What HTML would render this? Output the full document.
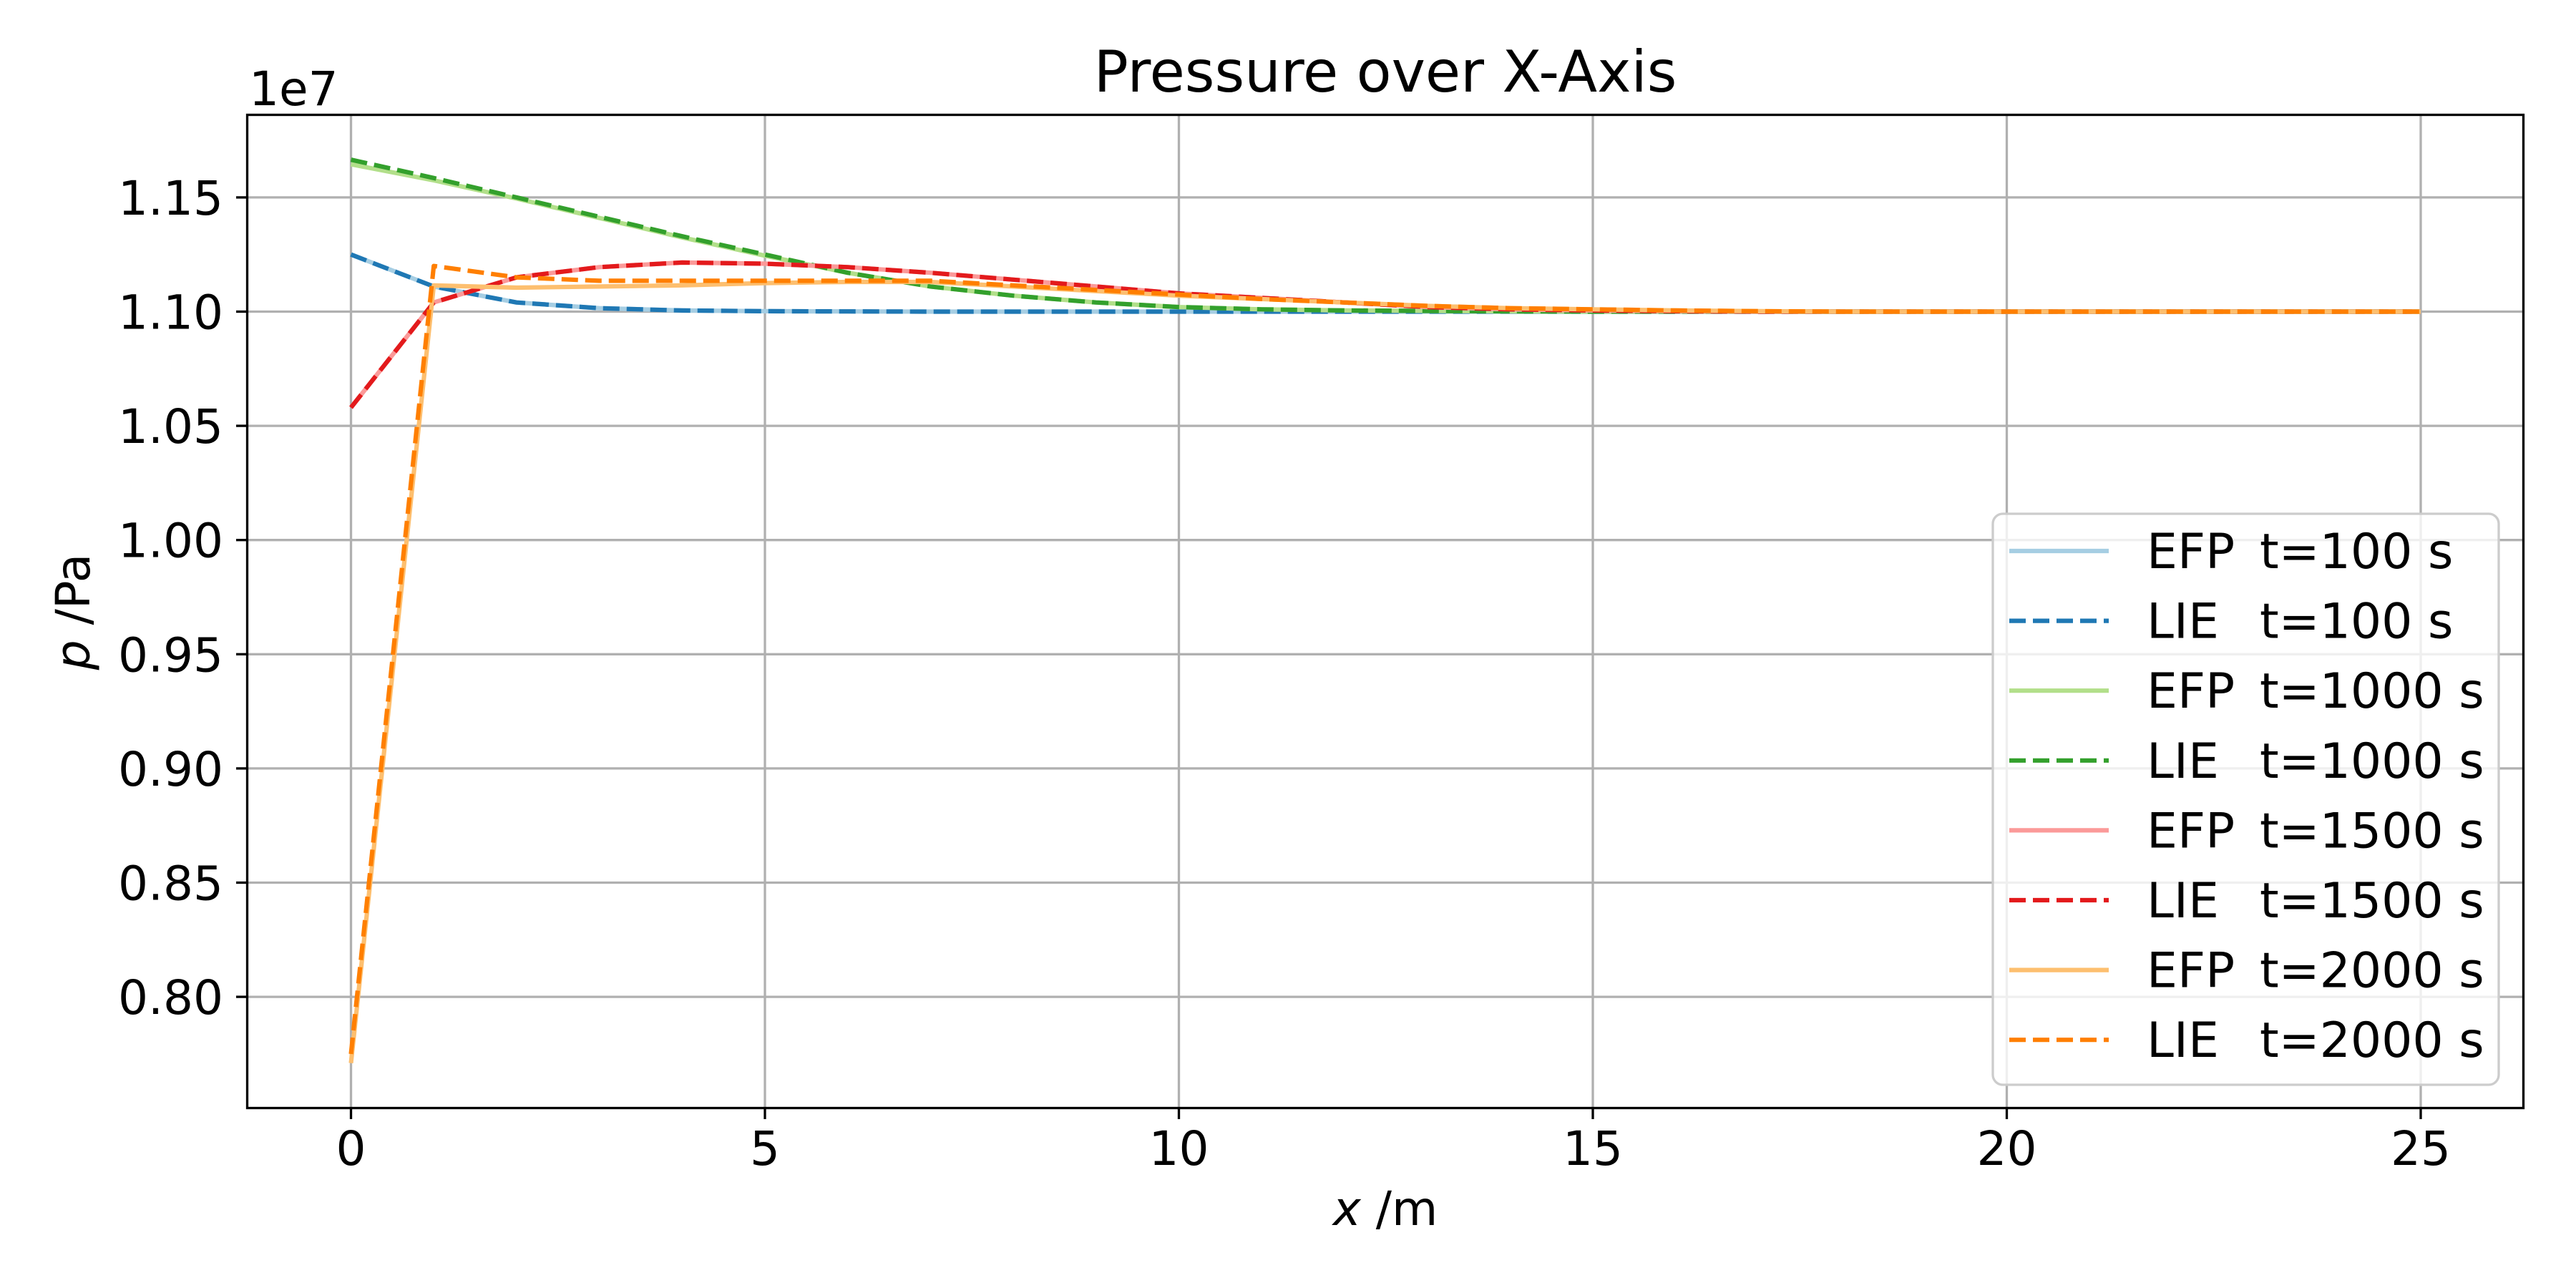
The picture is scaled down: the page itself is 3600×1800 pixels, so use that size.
<!DOCTYPE html>
<html><head><meta charset="utf-8"><style>
html,body{margin:0;padding:0;background:#fff;}
svg{display:block;font-family:"DejaVu Sans","Liberation Sans",sans-serif;}
</style></head><body>
<svg id="chart" width="3600" height="1800" viewBox="0 0 3600 1800">
<rect x="0" y="0" width="3600" height="1800" fill="#fff"/>
<g id="grid"></g>
<g id="series"></g>
<rect x="345.5" y="160.5" width="3181" height="1388" fill="none" stroke="#000" stroke-width="3.3"/>
<g id="ticks"></g>
<text x="1936" y="128" font-size="80" text-anchor="middle">Pressure over X-Axis</text>
<text x="348" y="147" font-size="66">1e7</text>
<text x="1936" y="1712" font-size="66" text-anchor="middle"><tspan font-style="italic">x</tspan> /m</text>
<text transform="translate(125,855) rotate(-90)" font-size="66" text-anchor="middle"><tspan font-style="italic">p</tspan> /Pa</text>
<g id="legend"></g>
</svg>
<script>
const xs = [0,1,2,3,4,5,6,7,8,9,10,11,12,13,14,15,16,17,18,19,20,21,22,23,24,25];
const efp100 = [1.125,1.111,1.104,1.1015,1.1005,1.1002,1.1001,1.1,1.1,1.1,1.1,1.1,1.1,1.1,1.1,1.1,1.1,1.1,1.1,1.1,1.1,1.1,1.1,1.1,1.1,1.1];
const lie100 = [1.125,1.111,1.104,1.1015,1.1005,1.1002,1.1001,1.1,1.1,1.1,1.1,1.1,1.1,1.1,1.1,1.1,1.1,1.1,1.1,1.1,1.1,1.1,1.1,1.1,1.1,1.1];
const efp1000 = [1.1645,1.1575,1.1495,1.141,1.1325,1.1245,1.117,1.111,1.107,1.104,1.102,1.101,1.1005,1.1003,1.1001,1.1,1.1,1.1,1.1,1.1,1.1,1.1,1.1,1.1,1.1,1.1];
const lie1000 = [1.1665,1.1585,1.150,1.1415,1.133,1.125,1.117,1.111,1.107,1.104,1.102,1.101,1.1005,1.1003,1.1001,1.1,1.1,1.1,1.1,1.1,1.1,1.1,1.1,1.1,1.1,1.1];
const efp1500 = [1.058,1.104,1.115,1.1195,1.1215,1.121,1.1195,1.117,1.114,1.111,1.108,1.106,1.104,1.102,1.101,1.1005,1.1002,1.1,1.1,1.1,1.1,1.1,1.1,1.1,1.1,1.1];
const lie1500 = [1.058,1.104,1.115,1.1195,1.1215,1.121,1.1195,1.117,1.114,1.111,1.108,1.106,1.104,1.102,1.101,1.1005,1.1002,1.1,1.1,1.1,1.1,1.1,1.1,1.1,1.1,1.1];
const efp2000 = [0.771,1.1115,1.1105,1.111,1.1115,1.1125,1.113,1.113,1.111,1.109,1.107,1.1055,1.104,1.1025,1.1015,1.101,1.1005,1.1002,1.1,1.1,1.1,1.1,1.1,1.1,1.1,1.1];
const lie2000 = [0.775,1.120,1.115,1.1135,1.1135,1.1135,1.1135,1.1135,1.1115,1.1095,1.1075,1.1055,1.104,1.1025,1.1015,1.101,1.1005,1.1002,1.1,1.1,1.1,1.1,1.1,1.1,1.1,1.1];
const xTicks = [0,5,10,15,20,25];
const yTicks = [0.80,0.85,0.90,0.95,1.00,1.05,1.10,1.15];
const legendLabels = [["EFP","t=100 s"],["LIE","t=100 s"],["EFP","t=1000 s"],["LIE","t=1000 s"],["EFP","t=1500 s"],["LIE","t=1500 s"],["EFP","t=2000 s"],["LIE","t=2000 s"]];

const NS = "http://www.w3.org/2000/svg";
function X(v){ return 490.5 + v*115.7; }
function Y(v){ return 435.5 + (1.10 - v)/0.05*159.6; }
function mk(tag, attrs, parent){ const e=document.createElementNS(NS,tag); for(const k in attrs) e.setAttribute(k,attrs[k]); parent.appendChild(e); return e; }

const grid=document.getElementById('grid'), ticks=document.getElementById('ticks');
xTicks.forEach(t=>{
  const g=mk('line',{x1:X(t),x2:X(t),y1:160,y2:1549,stroke:'#b0b0b0','stroke-width':3.3},grid);
  
  
  const tk=mk('line',{x1:X(t),x2:X(t),y1:1549,y2:1564,stroke:'#000','stroke-width':3.3},ticks);
  
  
  const tl=mk('text',{x:X(t),y:1628,'font-size':66,'text-anchor':'middle'},ticks);
  tl.textContent=String(t);
  
  
});
yTicks.forEach(t=>{
  const g=mk('line',{x1:345,x2:3527,y1:Y(t),y2:Y(t),stroke:'#b0b0b0','stroke-width':3.3},grid);
  
  
  const tk=mk('line',{x1:330,x2:345,y1:Y(t),y2:Y(t),stroke:'#000','stroke-width':3.3},ticks);
  
  
  const tl=mk('text',{x:312,y:Y(t)+24,'font-size':66,'text-anchor':'end'},ticks);
  tl.textContent=t.toFixed(2);
  
  
});

const seriesDefs=[
  [efp100,'#a6cee3',false],[lie100,'#1f78b4',true],
  [efp1000,'#b2df8a',false],[lie1000,'#33a02c',true],
  [efp1500,'#fb9a99',false],[lie1500,'#e31a1c',true],
  [efp2000,'#fdbf6f',false],[lie2000,'#ff7f00',true]];
const sg=document.getElementById('series');
seriesDefs.forEach((s,i)=>{
  const pts=xs.map((x,j)=>X(x).toFixed(1)+','+Y(s[0][j]).toFixed(1)).join(' ');
  const a={points:pts,fill:'none',stroke:s[1],'stroke-width':6.2,'stroke-linejoin':'round'};
  if(s[2]) a['stroke-dasharray']='23 10';
  const p=mk('polyline',a,sg);
  
  
});

const lg=document.getElementById('legend');
const box=mk('rect',{x:2785,y:718,width:707,height:798,rx:14,fill:'#fff','fill-opacity':0.8,stroke:'#cccccc','stroke-width':3.3},lg);


legendLabels.forEach((l,i)=>{
  const y=770+i*97.6;
  const a={x1:2808,x2:2947,y1:y,y2:y,stroke:seriesDefs[i][1],'stroke-width':6.2};
  if(seriesDefs[i][2]) a['stroke-dasharray']='23 10';
  const h=mk('line',a,lg);
  
  
  const t1=mk('text',{x:3000,y:y+24,'font-size':68},lg);
  t1.textContent=l[0];
  
  
  const t2=mk('text',{x:3158,y:y+24,'font-size':68},lg);
  t2.textContent=l[1];
  
  
});
</script>
</body></html>
